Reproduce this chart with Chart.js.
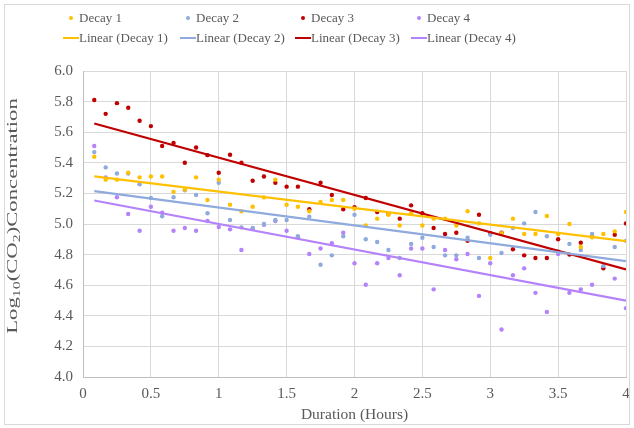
<!DOCTYPE html>
<html>
<head>
<meta charset="utf-8">
<script src="https://cdn.jsdelivr.net/npm/chart.js@4.4.1/dist/chart.umd.min.js"></script>
<style>
  html, body { margin: 0; padding: 0; background: #fff; overflow: hidden; }
  #wrap { position: relative; width: 634px; height: 428px; }
  #frame { position: absolute; left: 4px; top: 4px; right: 4px; bottom: 3px; border: 1px solid #d9d9d9; pointer-events: none; }
  #legend { position: absolute; left: 0; top: 0; width: 634px; height: 60px; font-family: 'Liberation Serif', 'Times New Roman', serif; font-size: 13px; color: #595959; }
  .lg { position: absolute; white-space: nowrap; line-height: 16px; }
  .dot { position: absolute; width: 4px; height: 4px; border-radius: 50%; }
  .bar { position: absolute; height: 2px; }
  #ytitle { position: absolute; left: 13px; top: 216px; white-space: nowrap; font-family: 'Liberation Serif', 'Times New Roman', serif; font-size: 15px; line-height: 15px; color: #595959; }
  #ytitle sub { font-size: 0.7em; vertical-align: baseline; position: relative; top: 0.3em; }
</style>
</head>
<body>
<div id="wrap">
  <canvas id="c" width="634" height="428"></canvas>
  <div id="legend"></div>
  <div id="ytitle">Log<sub>10</sub>(CO<sub>2</sub>)Concentration</div>
  <div id="frame"></div>
</div>
<script>
(function () {
  'use strict';

  // sample times (hours)
  const hours = [0.083, 0.167, 0.25, 0.333, 0.417, 0.5, 0.583, 0.667, 0.75, 0.833, 0.917, 1,
    1.083, 1.167, 1.25, 1.333, 1.417, 1.5, 1.583, 1.667, 1.75, 1.833, 1.917, 2,
    2.083, 2.167, 2.25, 2.333, 2.417, 2.5, 2.583, 2.667, 2.75, 2.833, 2.917, 3,
    3.083, 3.167, 3.25, 3.333, 3.417, 3.5, 3.583, 3.667, 3.75, 3.833, 3.917, 4];

  // log10(CO2) readings
  const decay1 = [5.44, 5.29, 5.29, 5.335, 5.305, 5.31, 5.31, 5.21, 5.225, 5.305, 5.157, 5.29,
    5.126, 5.083, 5.113, 5.174, 5.29, 5.126, 5.113, 5.083, 5.144, 5.157, 5.157, 5.10,
    4.99, 5.035, 5.06, 4.99, 5.07, 4.99, 5.035, 5.035, 4.99, 5.083, 5.004, 4.778,
    4.94, 5.035, 4.935, 4.935, 5.052, 4.935, 5.0, 4.85, 4.913, 4.935, 4.952, 5.078];
  const decay2 = [5.47, 5.37, 5.33, 5.33, 5.26, 5.17, 5.05, 5.175, 5.22, 5.19, 5.07, 5.27,
    5.026, 4.978, 4.974, 5.0, 5.026, 5.026, 4.92, 5.048, 4.734, 4.795, 4.92, 5.06,
    4.90, 4.882, 4.83, 4.778, 4.87, 4.91, 4.85, 4.795, 4.795, 4.91, 4.778, 4.93,
    4.81, 4.974, 5.004, 5.078, 4.92, 4.82, 4.87, 4.83, 4.935, 4.725, 4.85, 4.89];
  const decay3 = [5.81, 5.72, 5.79, 5.76, 5.675, 5.64, 5.51, 5.53, 5.40, 5.50, 5.45, 5.335,
    5.453, 5.40, 5.283, 5.31, 5.27, 5.244, 5.244, 5.096, 5.27, 5.19, 5.096, 5.11,
    5.17, 5.078, 5.065, 5.035, 5.122, 5.07, 4.974, 4.935, 4.943, 4.89, 5.06, 4.94,
    4.943, 4.835, 4.795, 4.778, 4.778, 4.90, 4.80, 4.878, 4.92, 4.71, 4.93, 5.004];
  const decay4 = [5.51, 5.305, 5.175, 5.065, 4.956, 5.113, 5.074, 4.956, 4.974, 4.956, 5.02, 4.98,
    4.965, 4.83, 4.97, 4.995, 5.02, 4.956, 4.913, 4.804, 4.84, 4.874, 4.943, 4.743,
    4.603, 4.743, 4.778, 4.665, 4.84, 4.84, 4.573, 4.83, 4.77, 4.804, 4.53, 4.743,
    4.31, 4.665, 4.71, 4.55, 4.425, 4.804, 4.55, 4.573, 4.603, 4.72, 4.643, 4.45];

  const seriesNames = ['Decay 1', 'Decay 2', 'Decay 3', 'Decay 4'];
  const seriesColors = ['#FFC000', '#8FAADC', '#C00000', '#B482FA'];
  const seriesData = [decay1, decay2, decay3, decay4];

  const xTicks = ['0', '0.5', '1', '1.5', '2', '2.5', '3', '3.5', '4'];
  const yTicks = ['4.0', '4.2', '4.4', '4.6', '4.8', '5.0', '5.2', '5.4', '5.6', '5.8', '6.0'];

  function tickLabel(list, v) {
    return list.find(t => Math.abs(parseFloat(t) - v) < 1e-6) || '';
  }

  function linFit(xs, ys) {
    const n = xs.length;
    let sx = 0, sy = 0, sxx = 0, sxy = 0;
    for (let i = 0; i < n; i++) {
      sx += xs[i]; sy += ys[i]; sxx += xs[i] * xs[i]; sxy += xs[i] * ys[i];
    }
    const b = (n * sxy - sx * sy) / (n * sxx - sx * sx);
    return { a: (sy - b * sx) / n, b: b };
  }

  const font = "'Liberation Serif', 'Times New Roman', serif";
  const datasets = [];

  seriesData.forEach((ys, k) => {
    datasets.push({
      label: seriesNames[k],
      data: hours.map((x, i) => ({ x: x, y: ys[i] })),
      backgroundColor: seriesColors[k],
      borderColor: seriesColors[k],
      pointRadius: 2.2,
      pointBorderWidth: 0,
      showLine: false,
      order: 2
    });
  });

  // Excel-style linear trendlines, fitted from the readings
  seriesData.forEach((ys, k) => {
    const f = linFit(hours, ys);
    const x0 = hours[0], x1 = hours[hours.length - 1];
    datasets.push({
      label: 'Linear (' + seriesNames[k] + ')',
      data: [{ x: x0, y: f.a + f.b * x0 }, { x: x1, y: f.a + f.b * x1 }],
      borderColor: seriesColors[k],
      backgroundColor: seriesColors[k],
      borderWidth: 2.25,
      pointRadius: 0,
      showLine: true,
      order: 1
    });
  });

  new Chart(document.getElementById('c'), {
    type: 'scatter',
    data: { datasets: datasets },
    options: {
      responsive: false,
      animation: false,
      layout: { padding: { top: 71, right: 8, bottom: 0, left: 0 } },
      plugins: { legend: { display: false }, tooltip: { enabled: false } },
      scales: {
        x: {
          type: 'linear', min: 0, max: 4,
          ticks: {
            stepSize: 0.5, padding: 8, color: '#595959', font: { family: font, size: 15 },
            callback: (v) => tickLabel(xTicks, v)
          },
          grid: { color: '#d9d9d9', drawTicks: false },
          border: { color: '#bfbfbf' },
          title: { display: true, text: 'Duration (Hours)', color: '#595959', padding: { top: 0, bottom: 4 }, font: { family: font, size: 15.5 } },
          afterFit: s => { s.height = 51; s.paddingLeft = 0; s.paddingRight = 0; }
        },
        y: {
          type: 'linear', min: 4, max: 6,
          ticks: {
            stepSize: 0.2, padding: 10, color: '#595959', font: { family: font, size: 15 },
            callback: (v) => tickLabel(yTicks, v)
          },
          grid: { color: '#d9d9d9', drawTicks: false },
          border: { color: '#bfbfbf' },
          afterFit: s => { s.width = 83; }
        }
      }
    }
  });

  // y title is drawn stretched along its length, as in the source
  const yt = document.getElementById('ytitle');
  const stretch = 236 / yt.offsetWidth;
  yt.style.transform = 'translate(-50%, -50%) rotate(-90deg) scaleX(' + stretch.toFixed(3) + ')';

  // legend: markers row above trend-line row, four columns
  const legend = document.getElementById('legend');
  const colX = [79, 196, 311, 427];
  seriesNames.forEach((name, k) => {
    const dot = document.createElement('div');
    dot.className = 'dot';
    dot.style.cssText = 'left:' + (colX[k] - 10) + 'px;top:16px;background:' + seriesColors[k];
    legend.appendChild(dot);
    const t1 = document.createElement('div');
    t1.className = 'lg';
    t1.style.cssText = 'left:' + colX[k] + 'px;top:10px';
    t1.textContent = name;
    legend.appendChild(t1);

    const bar = document.createElement('div');
    bar.className = 'bar';
    bar.style.cssText = 'left:' + (colX[k] - 16) + 'px;top:37px;width:16px;background:' + seriesColors[k];
    legend.appendChild(bar);
    const t2 = document.createElement('div');
    t2.className = 'lg';
    t2.style.cssText = 'left:' + colX[k] + 'px;top:30px';
    t2.textContent = 'Linear (' + name + ')';
    legend.appendChild(t2);
  });
})();
</script>
</body>
</html>
